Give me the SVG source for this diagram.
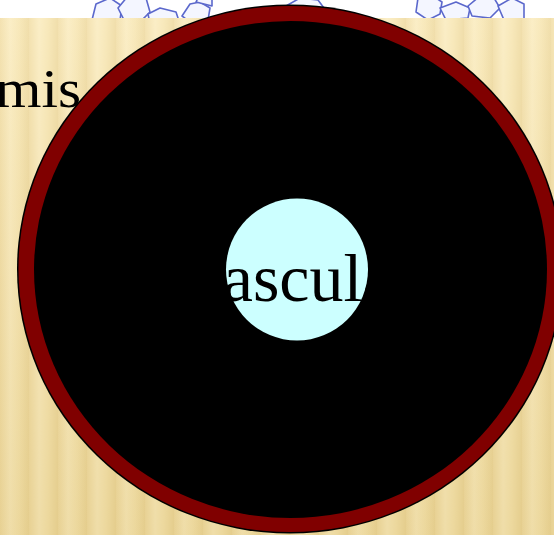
<svg xmlns="http://www.w3.org/2000/svg" width="554" height="535" viewBox="0 0 554 535">
  <defs>
    <!-- one vertical stripe of the tan backdrop -->
    <linearGradient id="stripe" x1="0" y1="0" x2="1" y2="0">
      <stop offset="0" stop-color="#f0dca6"/>
      <stop offset="0.35" stop-color="#faecc2"/>
      <stop offset="0.65" stop-color="#f6e5b3"/>
      <stop offset="1" stop-color="#ecd79e"/>
    </linearGradient>
    <pattern id="stripes" x="0" y="0" width="29" height="535" patternUnits="userSpaceOnUse">
      <rect width="29" height="535" fill="url(#stripe)"/>
    </pattern>
    <!-- darkens the backdrop toward the bottom -->
    <linearGradient id="shade" x1="0" y1="0" x2="0" y2="1">
      <stop offset="0" stop-color="#fff6d8" stop-opacity="0.25"/>
      <stop offset="1" stop-color="#c9a94e" stop-opacity="0.22"/>
    </linearGradient>
    <clipPath id="band">
      <rect x="0" y="0" width="554" height="18"/>
    </clipPath>
    <style>
      .cell { fill: #f4f6ff; stroke: #5b68cc; stroke-width: 1.6; stroke-linejoin: round; }
      .label { font-family: "Liberation Serif", "Times New Roman", serif; fill: #000; }
    </style>
  </defs>

  <!-- backdrop -->
  <g id="backdrop">
    <rect x="0" y="0" width="554" height="535" fill="url(#stripes)"/>
    <rect x="0" y="0" width="554" height="535" fill="url(#shade)"/>
    <rect x="0" y="0" width="554" height="18" fill="#ffffff"/>
    <g clip-path="url(#band)">
      <path class="cell" d="M92,20 L96,4 L110,-2 L122,6 L120,20 Z"/>
      <path class="cell" d="M118,8 L128,-4 L146,-2 L150,12 L140,22 L124,20 Z"/>
      <path class="cell" d="M148,14 L160,8 L176,12 L180,24 L150,24 Z"/>
      <path class="cell" d="M182,16 L190,4 L200,2 L210,8 L208,20 L190,22 Z"/>
      <path class="cell" d="M196,2 L200,-6 L212,-4 L212,6 Z"/>
      <path class="cell" d="M286,6 L300,-2 L318,0 L324,8 L310,14 L292,12 Z"/>
      <path class="cell" d="M418,-2 L430,-6 L442,2 L440,14 L428,20 L416,12 Z"/>
      <path class="cell" d="M440,8 L456,2 L470,8 L468,18 L446,20 Z"/>
      <path class="cell" d="M468,6 L480,-4 L494,-2 L500,8 L490,18 L472,16 Z"/>
      <path class="cell" d="M498,6 L512,-2 L524,4 L524,20 L504,20 Z"/>
    </g>
  </g>

  <!-- outer label, partly covered by the cross-section -->
  <g id="epidermis-label">
    <text class="label" transform="translate(81,107) scale(1.1,1)" x="0" y="0" font-size="54" text-anchor="end">Epidermis</text>
  </g>

  <!-- cross-section: outline, red rim, black body -->
  <g id="section">
    <ellipse cx="290" cy="269" rx="273" ry="264.5" fill="#000000"/>
    <ellipse cx="290" cy="269" rx="271.5" ry="263" fill="#800000"/>
    <ellipse cx="290.5" cy="269.5" rx="256.5" ry="248.5" fill="#000000"/>
  </g>

  <!-- central bundle -->
  <g id="vascular">
    <circle cx="297" cy="269.5" r="71" fill="#ccffff"/>
    <text class="label" x="302" y="301" font-size="68" text-anchor="middle">vascular</text>
  </g>
</svg>
